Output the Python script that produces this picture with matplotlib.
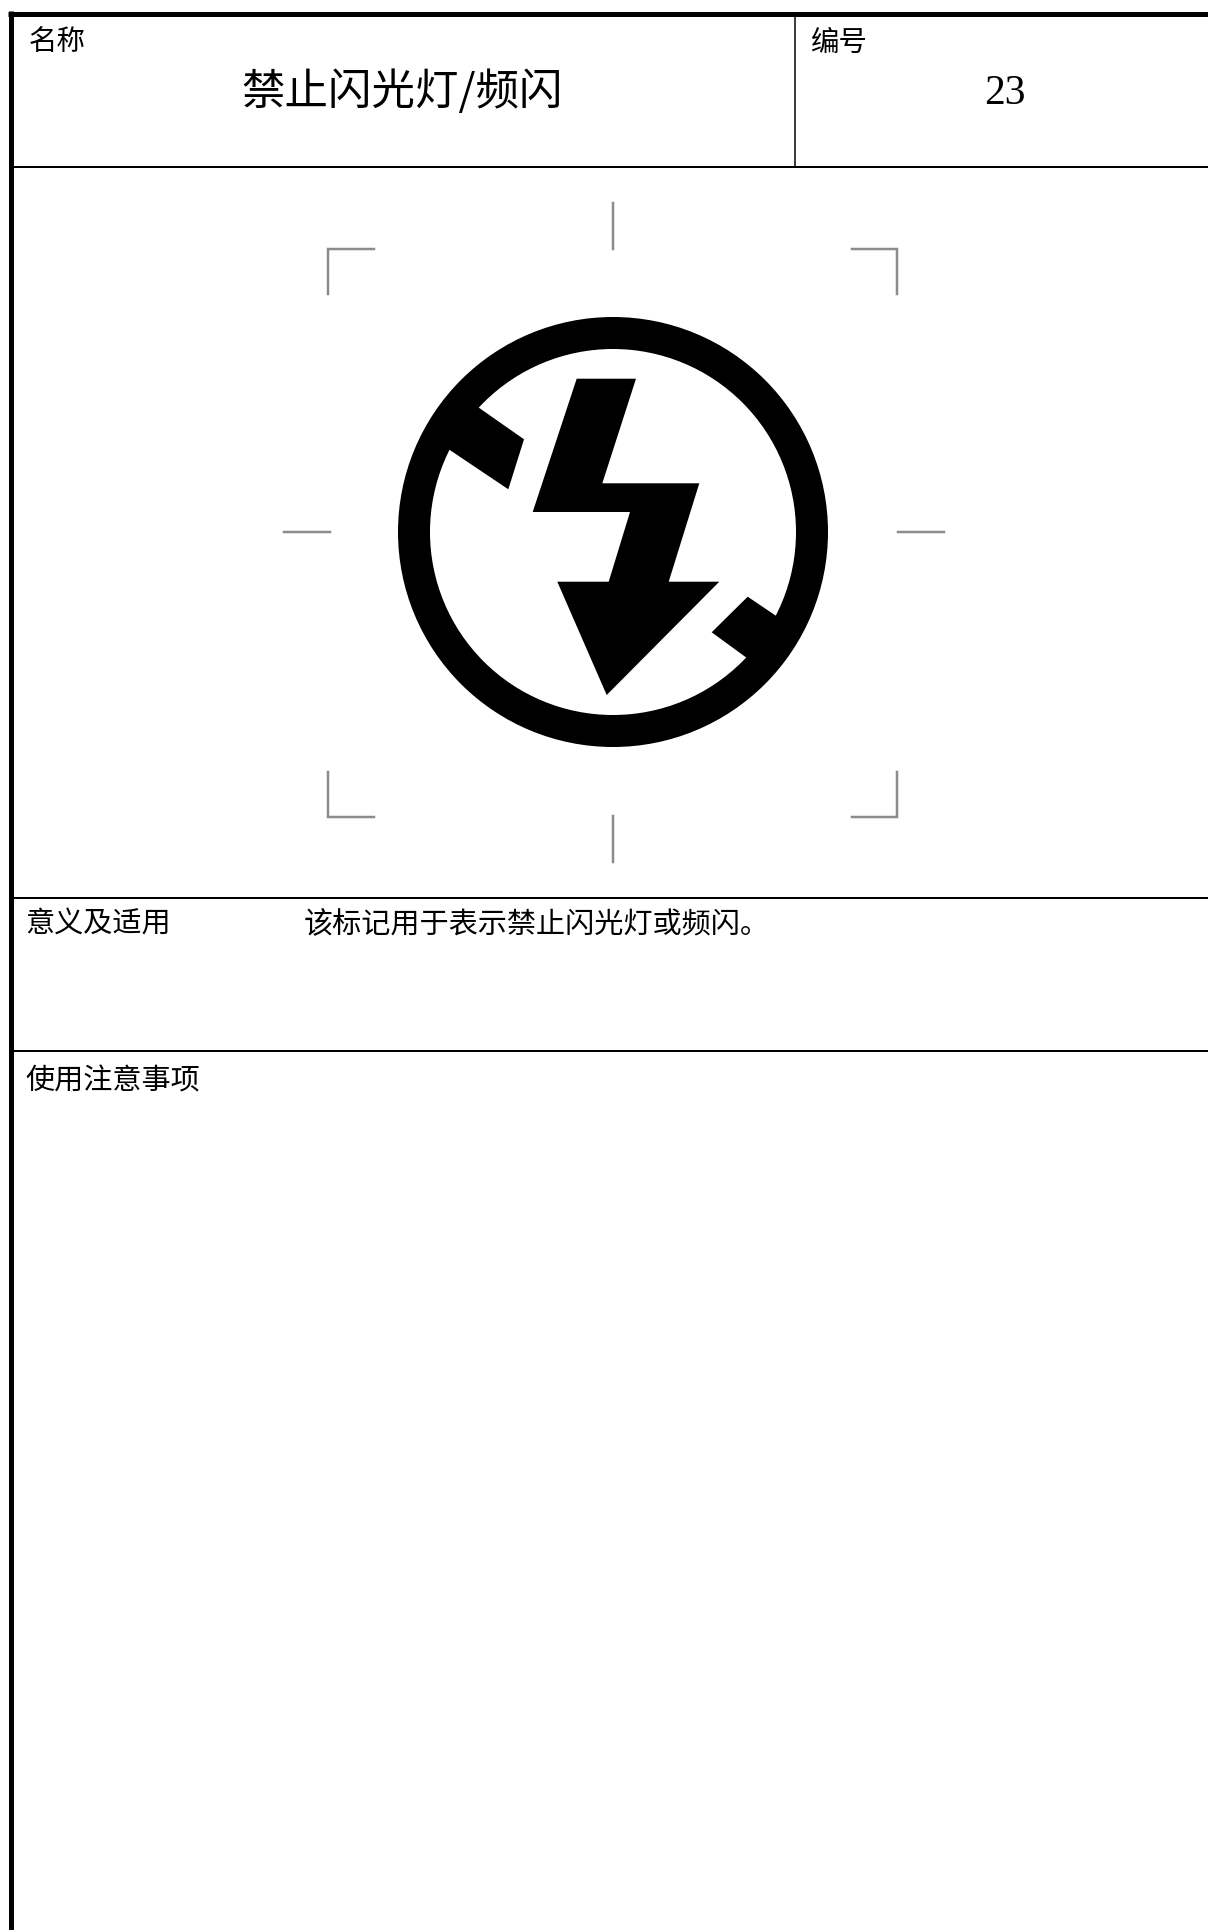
import matplotlib
matplotlib.use("Agg")
import matplotlib.pyplot as plt
from matplotlib.patches import Circle, Polygon

plt.rcParams['font.family'] = ['Noto Sans CJK SC', 'DejaVu Sans']

# table rules, in pixels of the 1208x1930 sheet
thick_h = [(8, 13.5, 1208, 5), (10, 166.5, 1208, 2), (10, 898, 1208, 2), (10, 1051, 1208, 2)]
rule_x, rule_top, rule_bottom = 795, 14, 166
left_x, left_w = 10.5, 5

# sign geometry
ring_xy = (613, 532)
ring_outer = 215
ring_inner = 183
bolt_x = [576.7, 636, 602.3, 699.3, 668.7, 719.3, 606.7, 557.3, 608.7, 630, 532.7]
bolt_y = [378.7, 378.7, 483.3, 483.3, 581.7, 581.7, 695, 581.7, 581.7, 512, 512]
tab_ul_x = [478.3, 524, 508.3, 448.3, 430, 452]
tab_ul_y = [407.3, 439.3, 489.3, 449, 430, 395]
tab_lr_x = [747.7, 777.3, 790, 770, 747.3, 711.7]
tab_lr_y = [596.7, 616.7, 632, 665, 658.3, 632.3]

# crop marks
mark_segments = [
    ([613, 613], [203, 249]),
    ([613, 613], [816, 862]),
    ([284, 330], [532, 532]),
    ([898, 944], [532, 532]),
    ([374, 328, 328], [249, 249, 294]),
    ([852, 897, 897], [249, 249, 294]),
    ([328, 328, 374], [772, 817, 817]),
    ([852, 897, 897], [817, 817, 772]),
]

fig = plt.figure(figsize=(12.08, 19.30), dpi=100)
ax = fig.add_axes([0, 0, 1, 1])
ax.set_xlim(0, 1208)
ax.set_ylim(1930, 0)
ax.axis('off')

for x0, y, x1, w in thick_h:
    ax.plot([x0, x1], [y, y], color='black', lw=w * 0.72, solid_capstyle='butt')
ax.plot([rule_x, rule_x], [rule_top, rule_bottom], color='black', lw=1.5 * 0.72)
ax.plot([left_x, left_x], [11, 1930], color='black', lw=left_w * 0.72, solid_capstyle='butt')

for xs, ys in mark_segments:
    ax.plot(xs, ys, color='#8c8c8c', lw=2.5 * 0.72, solid_joinstyle='miter')

ax.add_patch(Circle(ring_xy, ring_outer, color='black', lw=0))
ax.add_patch(Circle(ring_xy, ring_inner, color='white', lw=0))
ax.add_patch(Polygon(list(zip(bolt_x, bolt_y)), closed=True, color='black', lw=0))
ax.add_patch(Polygon(list(zip(tab_ul_x, tab_ul_y)), closed=True, color='black', lw=0))
ax.add_patch(Polygon(list(zip(tab_lr_x, tab_lr_y)), closed=True, color='black', lw=0))

ax.text(29, 42.5, '名称', fontsize=20.5, va='center', ha='left')
ax.text(811, 42.5, '编号', fontsize=20.5, va='center', ha='left')
ax.text(402, 93, '禁止闪光灯/频闪', fontsize=31.3, va='center', ha='center')
ax.text(1005, 94, '23', fontsize=30, va='center', ha='center', family='Liberation Serif')
ax.text(25, 925, '意义及适用', fontsize=21, va='center', ha='left')
ax.text(304, 925, '该标记用于表示禁止闪光灯或频闪。', fontsize=21, va='center', ha='left')
ax.text(25, 1081, '使用注意事项', fontsize=21, va='center', ha='left')

fig.savefig('out.png', dpi=100)
